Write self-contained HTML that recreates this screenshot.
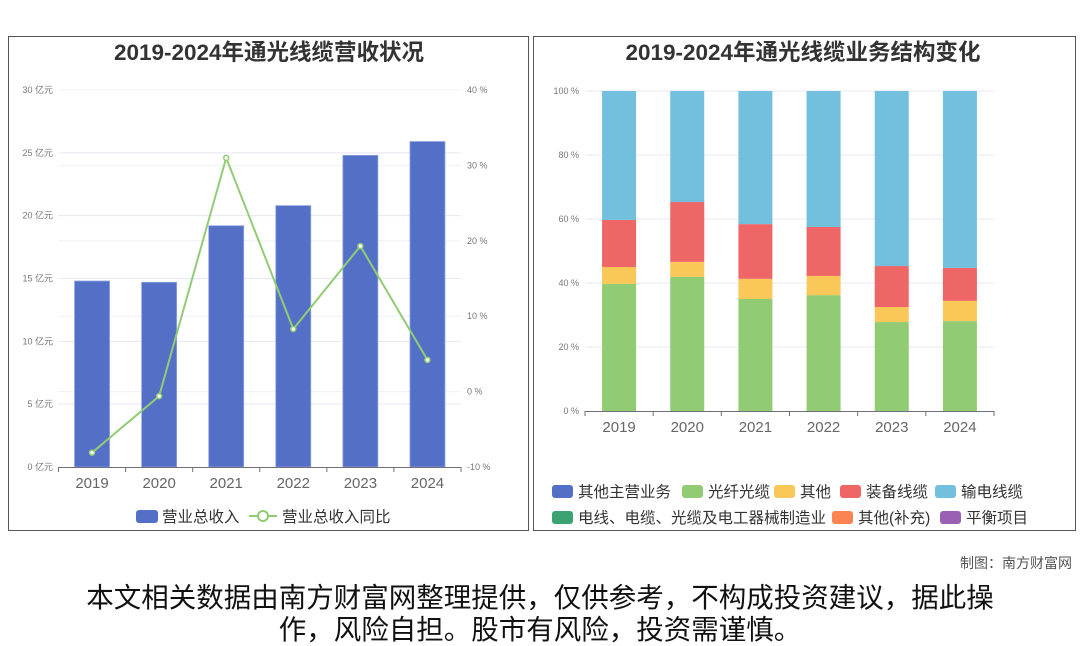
<!DOCTYPE html>
<html><head><meta charset="utf-8">
<style>
body{margin:0;background:#fff;width:1080px;height:646px;overflow:hidden;font-family:"Liberation Sans","Noto Sans CJK SC",sans-serif;}
svg{position:absolute;left:0;top:0}
.ft{position:absolute;left:0;width:1080px;text-align:center;font-size:27.5px;line-height:32px;color:#111;font-family:"Liberation Sans","Noto Sans CJK SC",sans-serif;}
</style></head><body>
<svg id="c" width="1080" height="646"></svg>
<div class="ft" style="top:582px">本文相关数据由南方财富网整理提供，仅供参考，不构成投资建议，据此操</div>
<div class="ft" style="top:614px">作，风险自担。股市有风险，投资需谨慎。</div>
<script>
const years=["2019","2020","2021","2022","2023","2024"];
const revenue=[14.8,14.7,19.2,20.8,24.8,25.9];
const growth=[-8.1,-0.6,31.0,8.3,19.3,4.2];
const leftTicks=[0,5,10,15,20,25,30];
const rightTicks=[-10,0,10,20,30,40];
const fiber=[39.7,41.9,35.0,36.2,27.8,28.1];
const other=[5.3,4.7,6.3,6.0,4.7,6.3];
const equip=[14.7,18.7,17.1,15.3,12.8,10.3];
const power=[40.3,34.7,41.6,42.5,54.7,55.3];
const pctTicks=[0,20,40,60,80,100];
const NS="http://www.w3.org/2000/svg";
const svg=document.getElementById('c');
function el(t,a,txt){const e=document.createElementNS(NS,t);for(const k in a)e.setAttribute(k,a[k]);if(txt!=null)e.textContent=txt;svg.appendChild(e);return e;}
const F='"Liberation Sans","Noto Sans CJK SC",sans-serif';
let p=el('rect',{x:8.5,y:36.5,width:520,height:494,fill:'none',stroke:'#555'});

p=el('rect',{x:533.5,y:36.5,width:542,height:494,fill:'none',stroke:'#555'});

let t=el('text',{x:269,y:60,'text-anchor':'middle','font-size':22.5,'font-weight':'bold',fill:'#333','font-family':F},'2019-2024年通光线缆营收状况');

t=el('text',{x:803,y:60,'text-anchor':'middle','font-size':22.5,'font-weight':'bold',fill:'#333','font-family':F},'2019-2024年通光线缆业务结构变化');

const LX0=58.5,LX1=461,LY0=467,LY1=90;
const bw=(LX1-LX0)/years.length;
const yL=v=>LY0-(v/30)*(LY0-LY1);
const yR=v=>LY0-((v+10)/50)*(LY0-LY1);
const xc=i=>LX0+bw*(i+0.5);
leftTicks.forEach(v=>{const y=yL(v);
 if(v>0){const g=el('line',{x1:LX0,x2:LX1,y1:y,y2:y,stroke:'#e6e8f2'});}
 const l=el('text',{x:53,y:y+3,'text-anchor':'end','font-size':9,fill:'#777','font-family':F},v+' 亿元');});
rightTicks.forEach(v=>{const y=yR(v);
 if(v>-10){const g=el('line',{x1:LX0,x2:LX1,y1:y,y2:y,stroke:'#eef0f6'});}
 const l=el('text',{x:467,y:y+3,'font-size':9,fill:'#777','font-family':F},v+' %');});
revenue.forEach((v,i)=>{const b=el('rect',{x:xc(i)-17.5,y:yL(v),width:35,height:LY0-yL(v),fill:'#5470c6',stroke:'#8fa3e0','stroke-width':0.8});
 });
let ax=el('line',{x1:LX0,x2:LX1,y1:LY0+.5,y2:LY0+.5,stroke:'#6e7079'});
years.forEach((y,i)=>{el('line',{x1:LX0+bw*i,x2:LX0+bw*i,y1:LY0,y2:LY0+5,stroke:'#6e7079'});
 const l=el('text',{x:xc(i),y:488,'text-anchor':'middle','font-size':15,fill:'#666','font-family':F},y);});
el('line',{x1:LX1,x2:LX1,y1:LY0,y2:LY0+5,stroke:'#6e7079'});
const ln=el('polyline',{points:growth.map((v,i)=>xc(i)+','+yR(v)).join(' '),fill:'none',stroke:'#91cc75','stroke-width':2});

growth.forEach((v,i)=>{const c=el('circle',{cx:xc(i),cy:yR(v),r:2.5,fill:'#fff',stroke:'#91cc75','stroke-width':1.5});});
let lg=el('rect',{x:136,y:510,width:22,height:13,rx:3,fill:'#5470c6'});
t=el('text',{x:162,y:522,'font-size':15.5,fill:'#333','font-family':F},'营业总收入');
el('line',{x1:249,x2:277,y1:516,y2:516,stroke:'#91cc75','stroke-width':2});
el('circle',{cx:263,cy:516,r:5,fill:'#fff',stroke:'#91cc75','stroke-width':2});
t=el('text',{x:282,y:522,'font-size':15.5,fill:'#333','font-family':F},'营业总收入同比');
const RX0=585,RX1=994,RY0=411,RY1=91;
const rbw=(RX1-RX0)/years.length;
const yP=v=>RY0-(v/100)*(RY0-RY1);
const rxc=i=>RX0+rbw*(i+0.5);
pctTicks.forEach(v=>{const y=yP(v);
 if(v>0){const g=el('line',{x1:RX0,x2:RX1,y1:y,y2:y,stroke:'#e6e8f2'});}
 const l=el('text',{x:579,y:y+3,'text-anchor':'end','font-size':9,fill:'#777','font-family':F},v+' %');});
const series=[[fiber,'#91cc75','fiber'],[other,'#fac858','other'],[equip,'#ee6666','equipment-cable'],[power,'#73c0de','power-cable']];
years.forEach((y,i)=>{let acc=0;series.forEach(s=>{const v=s[0][i];const r=el('rect',{x:rxc(i)-17,y:yP(acc+v),width:34,height:yP(acc)-yP(acc+v),fill:s[1]});
 acc+=v;});});
ax=el('line',{x1:RX0,x2:RX1,y1:RY0+.5,y2:RY0+.5,stroke:'#6e7079'});
years.forEach((y,i)=>{el('line',{x1:RX0+rbw*i,x2:RX0+rbw*i,y1:RY0,y2:RY0+5,stroke:'#6e7079'});
 const l=el('text',{x:rxc(i),y:432,'text-anchor':'middle','font-size':15,fill:'#666','font-family':F},y);});
el('line',{x1:RX1,x2:RX1,y1:RY0,y2:RY0+5,stroke:'#6e7079'});
const legs=[['其他主营业务','#5470c6',552,491],['光纤光缆','#91cc75',682,491],['其他','#fac858',774,491],['装备线缆','#ee6666',840,491],['输电线缆','#73c0de',935,491],
['电线、电缆、光缆及电工器械制造业','#3ba272',552,517],['其他(补充)','#fc8452',832,517],['平衡项目','#9a60b4',940,517]];
legs.forEach(L=>{const s=el('rect',{x:L[2],y:L[3]-6,width:21,height:13,rx:3,fill:L[1]});
 const tx=el('text',{x:L[2]+26,y:L[3]+6,'font-size':15.5,fill:'#333','font-family':F},L[0]);});
t=el('text',{x:1072,y:568,'text-anchor':'end','font-size':14,fill:'#555','font-family':F},'制图：南方财富网');
</script>
</body></html>
